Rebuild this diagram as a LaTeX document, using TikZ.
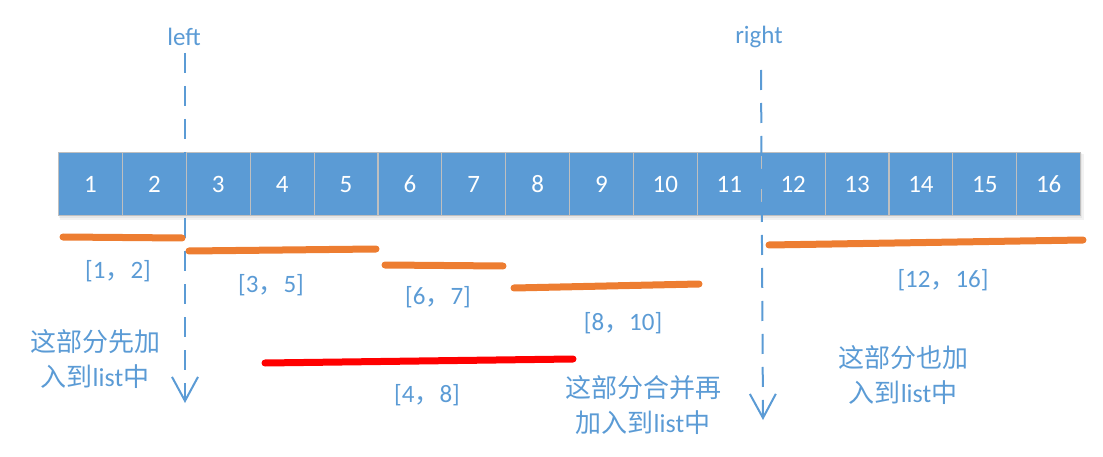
\documentclass[tikz,border=0pt]{standalone}
\usepackage{fontspec}
\setmainfont{Carlito}
\newfontfamily\cjk{Noto Sans CJK SC}
\usetikzlibrary{arrows.meta}
\definecolor{cellblue}{HTML}{5B9BD5}
\definecolor{txtblue}{HTML}{5B9BD5}
\definecolor{segorange}{HTML}{ED7D31}
\definecolor{cellline}{HTML}{BFBFBF}
\begin{document}
\begin{tikzpicture}[x=1pt,y=-1pt,
 cell/.style={draw=cellline, line width=1.2pt, fill=cellblue, minimum width=63.875pt, minimum height=63pt, inner sep=0pt, text=white, font=\fontsize{25}{29}\selectfont, anchor=north west},
 lbl/.style={text=txtblue, font=\fontsize{25}{29}\selectfont, inner sep=0pt},
 note/.style={text=txtblue, font=\fontsize{26}{35}\selectfont, align=center, inner sep=0pt},
 seg/.style={line width=7pt, line cap=round, segorange},
 redseg/.style={line width=7pt, line cap=round, red},
 pointer/.style={cellblue, line width=2pt, dash pattern=on 20pt off 13pt, -{Straight Barb[length=24pt,width=26pt]}}
]
\useasboundingbox (0,0) rectangle (1103,457);
% soft shadow
\fill[black, opacity=0.05] (60,154) rectangle (1084,220);
\fill[black, opacity=0.05] (59,153) rectangle (1082,218);
% cells
\foreach \i in {1,...,16} { \node[cell] (c\i) at ({58+(\i-1)*63.875},152) {\i}; }
% pointer labels
\node[lbl] (leftlbl) at (184,37) {left};
\node[lbl] (rightlbl) at (759,37) {right};
% pointer lines
\coordinate (ltop) at (185,53);
\coordinate (lbot) at (185,403);
\coordinate (rtop) at (761,70);
\coordinate (rbot) at (763,420);
\draw[pointer] (ltop) -- (lbot);
\draw[pointer] (rtop) -- (rbot);
% segments
\coordinate (s1a) at (63,237); \coordinate (s1b) at (182,238);
\coordinate (s2a) at (189,251); \coordinate (s2b) at (376,249);
\coordinate (s3a) at (385,265); \coordinate (s3b) at (503,266);
\coordinate (s4a) at (514,288); \coordinate (s4b) at (699,284);
\coordinate (s5a) at (769,245); \coordinate (s5b) at (1083,240);
\coordinate (r1a) at (265,363); \coordinate (r1b) at (573,359);
\draw[seg] (s1a) -- (s1b);
\draw[seg] (s2a) -- (s2b);
\draw[seg] (s3a) -- (s3b);
\draw[seg] (s4a) -- (s4b);
\draw[seg] (s5a) -- (s5b);
\draw[redseg] (r1a) -- (r1b);
% range labels
\node[lbl] (g1) at (118,271) {[1{\cjk ，}2]};
\node[lbl] (g2) at (271,285) {[3{\cjk ，}5]};
\node[lbl] (g3) at (438,297) {[6{\cjk ，}7]};
\node[lbl] (g4) at (623,323) {[8{\cjk ，}10]};
\node[lbl] (g5) at (427,395) {[4{\cjk ，}8]};
\node[lbl] (g6) at (943,280) {[12{\cjk ，}16]};
% notes
\node[note] (n1) at (95,359) {{\cjk 这部分先加}\\{\cjk 入到}list{\cjk 中}};
\node[note] (n2) at (643,405) {{\cjk 这部分合并再}\\{\cjk 加入到}list{\cjk 中}};
\node[note] (n3) at (903,375) {{\cjk 这部分也加}\\{\cjk 入到}list{\cjk 中}};
\end{tikzpicture}
\end{document}
